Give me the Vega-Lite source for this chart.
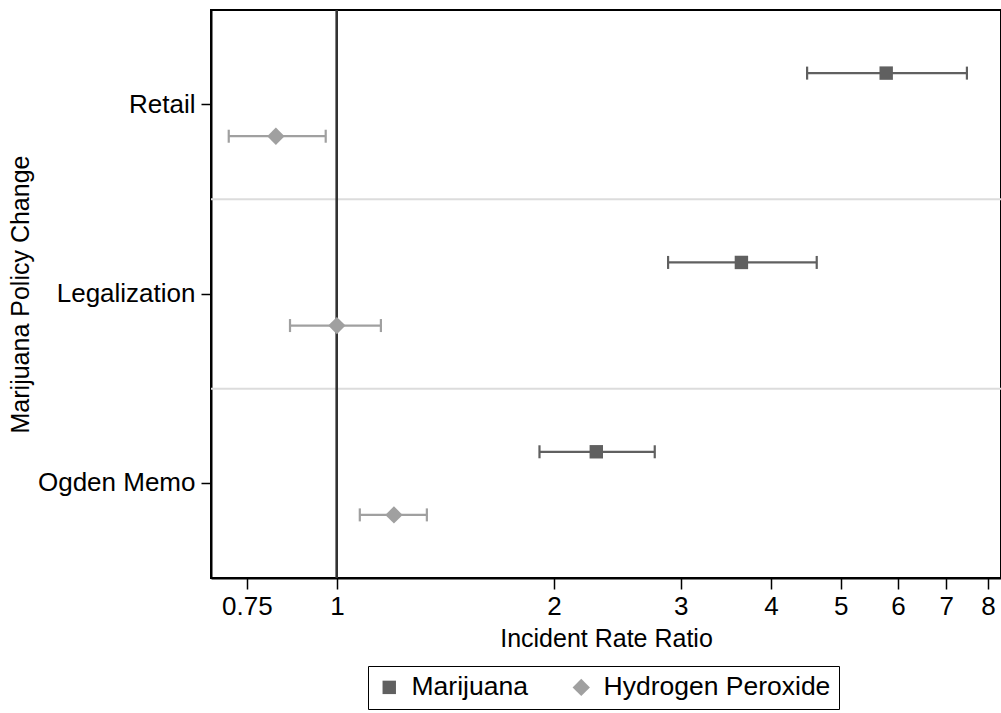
{
  "$schema": "https://vega.github.io/schema/vega-lite/v6.json",
  "width": 790,
  "height": 568,
  "padding": {"left": 8, "top": 9, "right": 0, "bottom": 0},
  "background": "white",
  "config": {
    "font": "Liberation Sans",
    "view": {"stroke": "black", "strokeWidth": 2},
    "axis": {
      "labelFontSize": 26, "titleFontSize": 25, "titleFontWeight": "normal",
      "labelColor": "black", "titleColor": "black",
      "domainColor": "black", "domainWidth": 2, "tickColor": "black", "tickWidth": 1.5,
      "grid": false
    },
    "legend": {"labelFontSize": 26.5, "labelColor": "black", "labelLimit": 400}
  },
  "datasets": {
    "est": [
      {"policy": "Retail", "series": "Marijuana", "irr": 5.78, "lo": 4.49, "hi": 7.48},
      {"policy": "Retail", "series": "Hydrogen Peroxide", "irr": 0.823, "lo": 0.708, "hi": 0.965},
      {"policy": "Legalization", "series": "Marijuana", "irr": 3.64, "lo": 2.88, "hi": 4.63},
      {"policy": "Legalization", "series": "Hydrogen Peroxide", "irr": 1.0, "lo": 0.861, "hi": 1.151},
      {"policy": "Ogden Memo", "series": "Marijuana", "irr": 2.29, "lo": 1.91, "hi": 2.76},
      {"policy": "Ogden Memo", "series": "Hydrogen Peroxide", "irr": 1.2, "lo": 1.076, "hi": 1.333}
    ],
    "sep": [{"policy": "Legalization"}, {"policy": "Ogden Memo"}]
  },
  "data": {"name": "est"},
  "layer": [
    {
      "data": {"name": "sep"},
      "mark": {"type": "rule", "color": "#dcdcdc", "strokeWidth": 2},
      "encoding": {
        "y": {"field": "policy", "type": "nominal", "bandPosition": 0}
      }
    },
    {
      "mark": {"type": "rule", "color": "#333333", "strokeWidth": 2},
      "encoding": {"x": {"datum": 1, "type": "quantitative"}}
    },
    {
      "mark": {"type": "rule", "strokeWidth": 2.2, "opacity": 1},
      "encoding": {
        "x": {"field": "lo", "type": "quantitative"},
        "x2": {"field": "hi"},
        "y": {"field": "policy", "type": "nominal"},
        "yOffset": {"field": "series", "type": "nominal"},
        "color": {"field": "series", "type": "nominal"}
      }
    },
    {
      "mark": {"type": "tick", "size": 13, "thickness": 2.2, "orient": "vertical", "opacity": 1},
      "encoding": {
        "x": {"field": "lo", "type": "quantitative"},
        "y": {"field": "policy", "type": "nominal"},
        "yOffset": {"field": "series", "type": "nominal"},
        "color": {"field": "series", "type": "nominal"}
      }
    },
    {
      "mark": {"type": "tick", "size": 13, "thickness": 2.2, "orient": "vertical", "opacity": 1},
      "encoding": {
        "x": {"field": "hi", "type": "quantitative"},
        "y": {"field": "policy", "type": "nominal"},
        "yOffset": {"field": "series", "type": "nominal"},
        "color": {"field": "series", "type": "nominal"}
      }
    },
    {
      "mark": {"type": "point", "filled": true, "opacity": 1},
      "encoding": {
        "x": {
          "field": "irr", "type": "quantitative",
          "scale": {"type": "log", "domain": [0.669, 8.34], "nice": false, "zero": false},
          "axis": {
            "title": "Incident Rate Ratio", "values": [0.75, 1, 2, 3, 4, 5, 6, 7, 8],
            "format": "~g", "tickSize": 11, "labelPadding": 4, "titlePadding": 7, "labelFlush": false
          }
        },
        "y": {
          "field": "policy", "type": "nominal",
          "scale": {"domain": ["Retail", "Legalization", "Ogden Memo"], "paddingInner": 0, "paddingOuter": 0},
          "axis": {"title": "Marijuana Policy Change", "tickSize": 10, "labelPadding": 6, "titlePadding": 4}
        },
        "yOffset": {
          "field": "series", "type": "nominal",
          "scale": {"domain": ["Marijuana", "Hydrogen Peroxide"], "paddingInner": 0, "paddingOuter": 0.5}
        },
        "color": {
          "field": "series", "type": "nominal",
          "scale": {"domain": ["Marijuana", "Hydrogen Peroxide"], "range": ["#606060", "#a0a0a0"]},
          "legend": {
            "title": null, "orient": "none", "legendX": 157, "legendY": 656, "direction": "horizontal",
            "strokeColor": "black", "padding": 8, "columnPadding": 40,
            "labelOffset": 9, "symbolOpacity": 1, "symbolSize": 190, "symbolStrokeWidth": 0
          }
        },
        "shape": {
          "field": "series", "type": "nominal",
          "scale": {"domain": ["Marijuana", "Hydrogen Peroxide"], "range": ["square", "diamond"]}
        },
        "size": {
          "field": "series", "type": "nominal",
          "scale": {"domain": ["Marijuana", "Hydrogen Peroxide"], "range": [180, 300]},
          "legend": null
        }
      }
    }
  ]
}
